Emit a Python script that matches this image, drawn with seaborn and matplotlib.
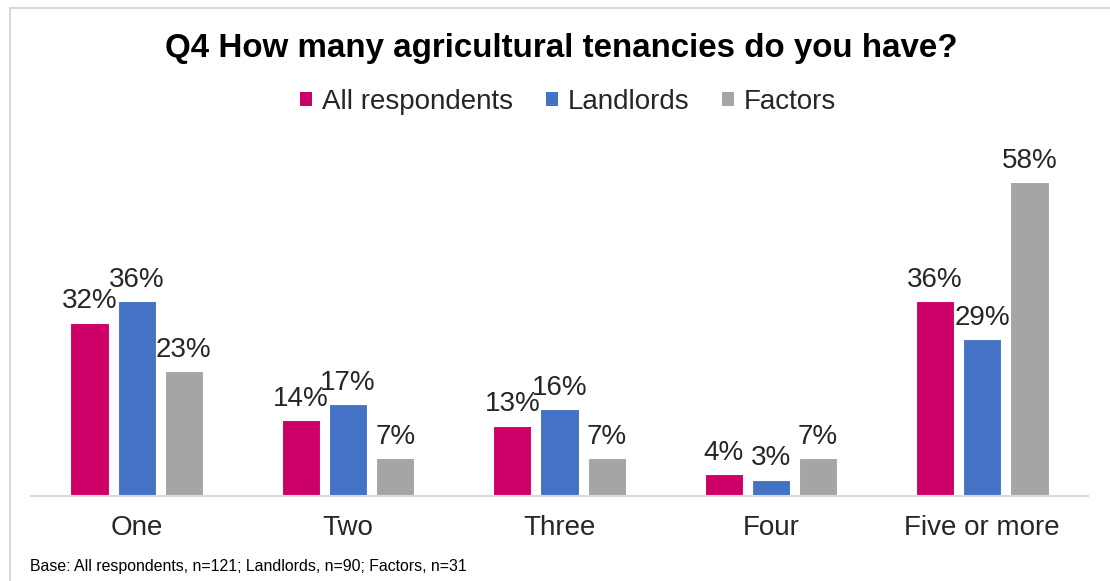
import matplotlib
matplotlib.use("Agg")
import matplotlib.pyplot as plt
from matplotlib.lines import Line2D
from matplotlib.patches import Patch
import seaborn as sns
import pandas as pd

# Survey results (percent of respondents)
categories = ["One", "Two", "Three", "Four", "Five or more"]
groups = ["All respondents", "Landlords", "Factors"]
all_respondents = [32, 14, 13, 4, 36]
landlords = [36, 17, 16, 3, 29]
factors = [23, 7, 7, 7, 58]
colors = ["#CC0066", "#4472C4", "#A5A5A5"]

title = "Q4 How many agricultural tenancies do you have?"
footnote = "Base: All respondents, n=121; Landlords, n=90; Factors, n=31"

df = pd.DataFrame({
    "category": categories * 3,
    "group": [g for g in groups for _ in categories],
    "value": all_respondents + landlords + factors,
})

sns.set_theme(style="white")
plt.rcParams["font.family"] = ["Liberation Sans", "DejaVu Sans"]

W, H = 1110, 581
fig = plt.figure(figsize=(W / 100, H / 100), dpi=100)
fig.patch.set_facecolor("white")

ymax = 65
ax = fig.add_axes([31 / W, 85 / H, (1088 - 31) / W, (ymax * 5.415) / H])

sns.barplot(data=df, x="category", y="value", hue="group", order=categories,
            hue_order=groups, palette=colors, width=0.67, gap=0.19,
            edgecolor="white", linewidth=0.8, saturation=1, ax=ax, legend=False)

for cont in ax.containers:
    ax.bar_label(cont, fmt="%d%%", padding=6, fontsize=20, color="#262626")

ax.set_xlim(-0.5, 4.5)
ax.set_ylim(0, ymax)
ax.set_xlabel("")
ax.set_ylabel("")
ax.set_yticks([])
ax.tick_params(axis="x", length=0, pad=14, labelsize=20, labelcolor="#262626")
for s in ["top", "left", "right"]:
    ax.spines[s].set_visible(False)
ax.spines["bottom"].set_color("#D9D9D9")
ax.spines["bottom"].set_linewidth(1.5)

handles = [Patch(facecolor=c, edgecolor="none") for c in colors]
fig.legend(handles, groups, loc="center", bbox_to_anchor=(568 / W, 1 - 102 / H),
           ncol=3, frameon=False, fontsize=20, handlelength=0.42,
           handleheight=0.42, handletextpad=0.35, columnspacing=1.2,
           labelcolor="#262626")

fig.text(561 / W, 1 - 48 / H, title, ha="center", va="center",
         fontsize=23.9, fontweight="bold", color="black")
fig.text(30 / W, 1 - 566 / H, footnote, ha="left", va="center",
         fontsize=11.4, color="black")

# light outer frame of the chart area
fig.add_artist(Line2D([10 / W, 1], [1 - 8 / H, 1 - 8 / H],
                      transform=fig.transFigure, color="#D9D9D9", lw=1.5))
fig.add_artist(Line2D([10 / W, 10 / W], [0, 1 - 8 / H],
                      transform=fig.transFigure, color="#D9D9D9", lw=1.5))

fig.savefig("out.png", dpi=100, facecolor="white")
